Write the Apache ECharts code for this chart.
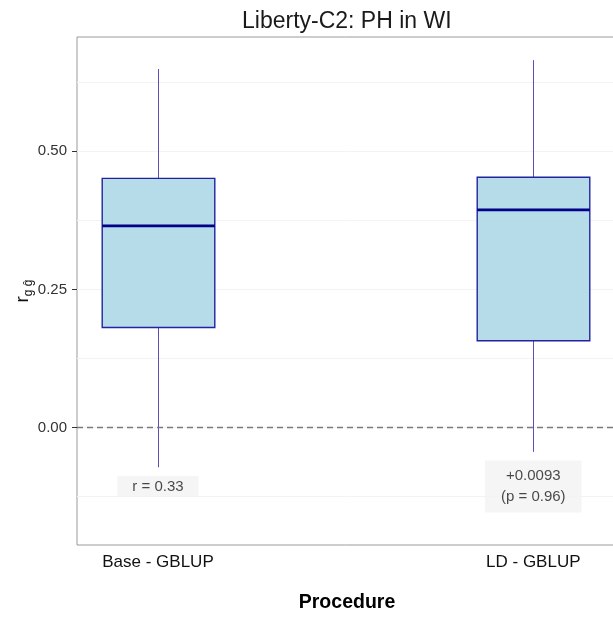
<!DOCTYPE html>
<html>
<head>
<meta charset="utf-8">
<script src="https://cdn.jsdelivr.net/npm/echarts@6/dist/echarts.min.js"></script>
<style>
  html, body { margin: 0; padding: 0; background: #fff; }
  #chart { width: 613px; height: 617px; }
</style>
</head>
<body>
<div id="chart"></div>
<script>
// ---- data ----
const categories = ['Base - GBLUP', 'LD - GBLUP'];
const whiskerLow = [-0.072, -0.044];
const q1 = [0.181, 0.157];
const median = [0.365, 0.394];
const q3 = [0.451, 0.453];
const whiskerHigh = [0.649, 0.665];
const annotationText = ['r = 0.33', '+0.0093\n(p = 0.96)'];
const annotationY = [-0.107, -0.107];
const yTickValues = [0, 0.25, 0.5];
const yGridValues = [-0.125, 0, 0.125, 0.25, 0.375, 0.5, 0.625];
const refLineValue = 0;

// ---- styling constants ----
const FONT = 'Liberation Sans, Arial, sans-serif';
const BOX_WIDTH = 0.3; // in category units
const ANN_PADDING = [[0, 15, 0, 15], [5, 16, 5, 16]];

const boxData = categories.map((c, i) => [i + 1, whiskerLow[i], q1[i], median[i], q3[i], whiskerHigh[i]]);
const annData = categories.map((c, i) => ({
  value: [i + 1, annotationY[i], annotationText[i]],
  label: { padding: ANN_PADDING[i] }
}));

const chart = echarts.init(document.getElementById('chart'), null, { renderer: 'canvas' });

const option = {
  animation: false,
  backgroundColor: '#ffffff',
  title: {
    text: 'Liberty-C2: PH in WI',
    left: 237,
    top: 5,
    textStyle: { fontFamily: FONT, fontSize: 23, fontWeight: 'normal', color: '#1a1a1a' }
  },
  grid: {
    left: 77, top: 37, width: 540, height: 508,
    outerBoundsMode: 'none',
    containLabel: false,
    show: true, borderColor: '#9a9a9a', borderWidth: 1, backgroundColor: '#ffffff'
  },
  xAxis: {
    type: 'value',
    min: 0.7842, max: 0.7842 + 540 / 375.3,
    axisLine: { show: false },
    axisTick: { show: false, customValues: [1, 2] },
    splitLine: { show: false },
    axisLabel: {
      customValues: [1, 2],
      formatter: v => categories[Math.round(v) - 1] || '',
      fontFamily: FONT, fontSize: 17, color: '#111', margin: 9
    },
    name: 'Procedure',
    nameLocation: 'middle',
    nameGap: 48,
    nameTextStyle: { fontFamily: FONT, fontSize: 19.5, fontWeight: 'bold', color: '#000' }
  },
  yAxis: [
    {
      type: 'value',
      min: -0.2127, max: 0.707,
      axisLine: { show: false },
      axisTick: { show: true, length: 5, customValues: yTickValues, lineStyle: { color: '#333' } },
      splitLine: { show: false },
      axisLabel: {
        customValues: yTickValues,
        formatter: v => v.toFixed(2),
        fontFamily: FONT, fontSize: 15, color: '#333', margin: 10
      },
      name: '{r|r}{s|g ĝ}',
      nameLocation: 'middle',
      nameGap: 42,
      nameMoveOverlap: false,
      nameRotate: 90,
      nameTextStyle: {
        fontFamily: FONT, color: '#111',
        rich: {
          r: { fontFamily: FONT, fontSize: 19, color: '#111' },
          s: { fontFamily: FONT, fontSize: 12, color: '#111', padding: [12, 0, 0, 0] }
        }
      }
    },
    {
      type: 'value',
      min: -0.2127, max: 0.707,
      axisLine: { show: false },
      axisTick: { show: false, customValues: yGridValues },
      axisLabel: { show: false },
      splitLine: { show: true, lineStyle: { color: '#f3f3f3', width: 1 } }
    }
  ],
  series: [
    {
      type: 'custom',
      name: 'box',
      yAxisIndex: 0,
      data: boxData,
      encode: { x: 0, y: [1, 2, 3, 4, 5] },
      z: 3,
      renderItem: function (params, api) {
        const x = api.value(0);
        const w = api.size([BOX_WIDTH, 0])[0];
        const pLow = api.coord([x, api.value(1)]);
        const pQ1 = api.coord([x, api.value(2)]);
        const pMed = api.coord([x, api.value(3)]);
        const pQ3 = api.coord([x, api.value(4)]);
        const pHigh = api.coord([x, api.value(5)]);
        const cx = Math.round(pMed[0]) + 0.5;
        const half = w / 2;
        return {
          type: 'group',
          children: [
            { type: 'line', shape: { x1: cx, y1: pHigh[1], x2: cx, y2: pQ3[1] },
              style: { stroke: '#5a50b8', lineWidth: 1 } },
            { type: 'line', shape: { x1: cx, y1: pQ1[1], x2: cx, y2: pLow[1] },
              style: { stroke: '#5a50b8', lineWidth: 1 } },
            { type: 'rect', shape: { x: cx - half, y: pQ3[1], width: w, height: pQ1[1] - pQ3[1] },
              style: { fill: '#b6dbe9', stroke: '#2323a0', lineWidth: 1.4 } },
            { type: 'line', shape: { x1: cx - half, y1: pMed[1], x2: cx + half, y2: pMed[1] },
              style: { stroke: '#00008b', lineWidth: 2.8 } }
          ]
        };
      },
      markLine: {
        silent: true,
        symbol: 'none',
        label: { show: false },
        lineStyle: { color: '#7a7a7a', type: [6, 4], width: 1.3 },
        data: [{ yAxis: refLineValue }]
      }
    },
    {
      type: 'scatter',
      name: 'annotations',
      yAxisIndex: 0,
      data: annData,
      symbolSize: 0,
      z: 4,
      silent: true,
      label: {
        show: true,
        position: 'inside',
        formatter: p => p.value[2],
        fontFamily: FONT, fontSize: 15, color: '#1a1a1a',
        lineHeight: 21,
        backgroundColor: '#f2f2f2'
      }
    }
  ]
};

chart.setOption(option);
</script>
</body>
</html>
